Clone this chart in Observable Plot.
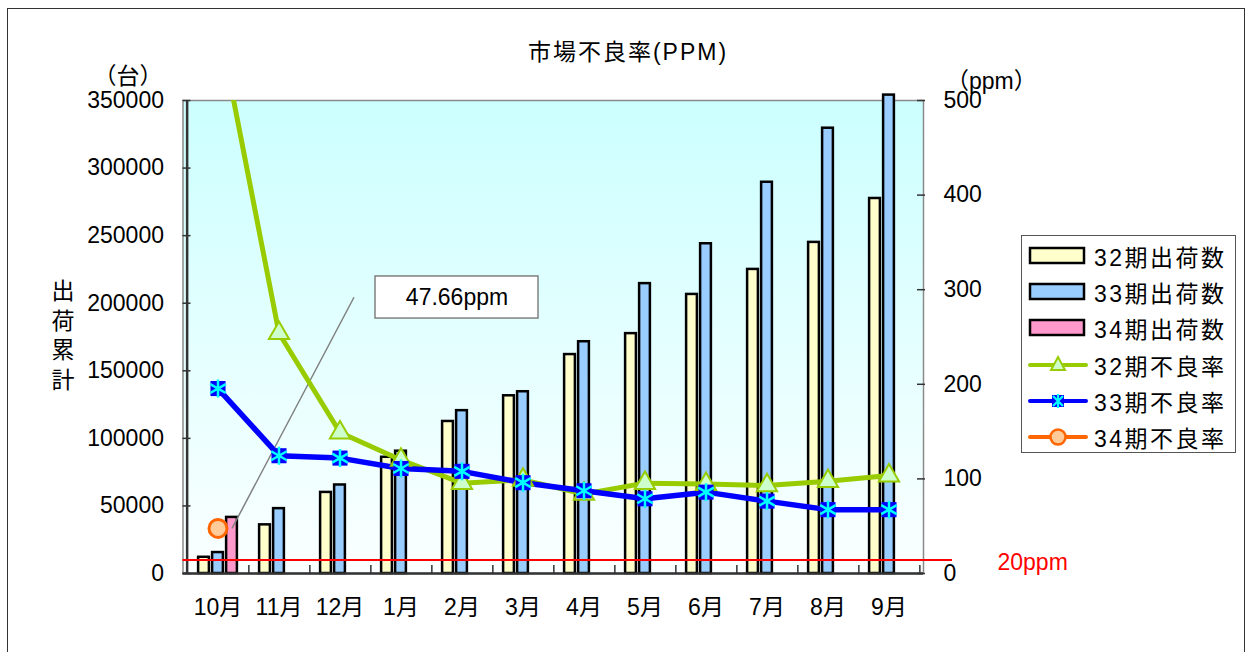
<!DOCTYPE html>
<html><head><meta charset="utf-8">
<script src="https://cdn.jsdelivr.net/npm/d3@7"></script>
<script src="https://cdn.jsdelivr.net/npm/@observablehq/plot@0.6"></script>
<style>
body{margin:0;background:#fff;font-family:"Liberation Sans","Noto Sans CJK JP",sans-serif;}
#wrap{position:relative;width:1252px;height:652px;overflow:hidden;}
#border{position:absolute;left:7px;top:8px;width:1238px;height:700px;border:1.5px solid #333;box-sizing:border-box;}
.t{position:absolute;color:#000;font-size:23px;white-space:nowrap;line-height:1;}
#legend{position:absolute;left:1021px;top:235px;width:215px;height:218px;border:1.2px solid #555;box-sizing:border-box;background:#fff;}
.lrow{position:absolute;left:6px;height:26px;display:flex;align-items:center;}
.lrow span{margin-left:6px;font-size:23px;letter-spacing:2.5px;}
svg.plot{position:absolute;left:0;top:0;}
</style></head><body><div id="wrap"><div id="border"></div></div>
<script>
// ---- data ----
const months = ["10月","11月","12月","1月","2月","3月","4月","5月","6月","7月","8月","9月"];
const ship32 = [12000, 36000, 60000, 86000, 112500, 131500, 162000, 177500, 206500, 225000, 245000, 277500];
const ship33 = [15500, 48000, 65500, 90500, 120500, 134500, 171500, 214500, 244000, 289500, 329500, 354000];
const ship34 = [41500, null, null, null, null, null, null, null, null, null, null, null];
const rate32 = [585, 254, 149, 120, 95.5, 99, 84, 95.5, 94.5, 93, 97.5, 103.5];
const rate33 = [195.5, 124.5, 122, 111, 108, 96, 87.5, 79, 86, 76.5, 67.5, 67.5];
const rate34 = [47.66, null, null, null, null, null, null, null, null, null, null, null];
const leftTicks = [0, 50000, 100000, 150000, 200000, 250000, 300000, 350000];
const rightTicks = [0, 100, 200, 300, 400, 500];
const threshold = 10000;         // red reference line position (left scale)
const thresholdLabel = "20ppm";
const seriesNames = ["32期出荷数","33期出荷数","34期出荷数","32期不良率","33期不良率","34期不良率"];
const title = "市場不良率(PPM)";

// ---- layout ----
const W = 1252, H = 652, ML = 182.5, MR = 329, MT = 100, MB = 79;
const plotW = W - ML - MR, plotH = H - MT - MB;
const band = plotW / months.length;
const barW = 11.5, barInset = (band - barW) / 2, barStep = 14;
const K = 350000 / 500; // ppm -> left scale units

const rows = (arr) => months.map((m, i) => ({m, v: arr[i]})).filter(d => d.v != null);
const r32 = rows(rate32).map(d => ({...d, y: d.v * K}));
const r33 = rows(rate33).map(d => ({...d, y: d.v * K}));
const r34 = rows(rate34).map(d => ({...d, y: d.v * K}));

const barOpts = (fill, dx) => ({x: "m", y: "v", fill, stroke: "#000", strokeWidth: 2.5, insetLeft: barInset, insetRight: barInset, dx});

const chart = Plot.plot({
  width: W, height: H,
  marginLeft: ML, marginRight: MR, marginTop: MT, marginBottom: MB,
  style: {fontFamily: '"Liberation Sans","Noto Sans CJK JP",sans-serif', fontSize: "23px", color: "#000", background: "transparent", overflow: "visible"},
  x: {type: "band", domain: months, padding: 0, axis: null},
  y: {domain: [0, 350000], axis: null},
  marks: [
    Plot.frame({fill: "url(#bgGrad)", stroke: "#8a8a8a", strokeWidth: 1.5}),
    Plot.barY(rows(ship32), barOpts("#FFFFCC", -barStep)),
    Plot.barY(rows(ship33), barOpts("#99CCFF", 0)),
    Plot.barY(rows(ship34), barOpts("#FF99CC", barStep)),
    // inner tick marks
    Plot.ruleY(leftTicks, {y: d => d, stroke: "#333", strokeWidth: 1.5, insetRight: plotW - 8}),
    Plot.ruleY(rightTicks.map(d => d * K), {y: d => d, stroke: "#333", strokeWidth: 1.5, insetLeft: plotW - 6, insetRight: -2}),
    Plot.ruleX(months, {x: d => d, dx: band / 2, stroke: "#333", strokeWidth: 1.5, insetTop: plotH - 8}),
    // axis lines
    Plot.ruleX([months[0]], {x: d => d, dx: -band / 2, stroke: "#333", strokeWidth: 2.5}),
    Plot.ruleY([0], {stroke: "#333", strokeWidth: 2.5}),
    // reference line
    Plot.ruleY([threshold], {stroke: "#FF0000", strokeWidth: 2, insetRight: -29}),
    Plot.text([threshold], {y: d => d, text: () => thresholdLabel, frameAnchor: "right", textAnchor: "start", dx: 74, dy: 3, fill: "#FF0000", fontSize: 23}),
    // callout
    Plot.link(r34, {x1: "m", y1: "y", x2: () => months[2], y2: () => 292 * K, dx: barStep, stroke: "#808080", strokeWidth: 1.5}),
    Plot.barY(r34, {x: () => months[4], y1: () => 314 * K, y2: () => 269.5 * K, fill: "#fff", stroke: "#808080", strokeWidth: 1.5, insetLeft: -56, insetRight: -46}),
    Plot.text(r34, {x: () => months[4], y: () => 292 * K, dx: -5, text: d => d.v.toFixed(2) + "ppm", fontSize: 23, fill: "#000"}),
    // lines
    Plot.line(r32, {x: "m", y: "y", stroke: "#99CC00", strokeWidth: 5, clip: true}),
    Plot.line(r33, {x: "m", y: "y", stroke: "#0000FF", strokeWidth: 5.5}),
    Plot.dot(r32, {x: "m", y: "y", symbol: "triangle", r: 7.5, fill: "#CCFFCC", stroke: "#99CC00", strokeWidth: 2, clip: true}),
    Plot.dot(r33, {x: "m", y: "y", symbol: "square", r: 8.5, fill: "#0000FF"}),
    Plot.dot(r33, {x: "m", y: "y", symbol: "asterisk", r: 8.5, stroke: "#00FFFF", strokeWidth: 2.5}),
    Plot.dot(r34, {x: "m", y: "y", symbol: "circle", r: 9, fill: "#FFCC99", stroke: "#FF6600", strokeWidth: 3}),
    // axes
    Plot.axisY({anchor: "left", ticks: leftTicks, tickSize: 0, tickPadding: 19, tickFormat: d => String(d), fontSize: 23, label: null}),
    Plot.axisY({anchor: "right", ticks: rightTicks.map(d => d * K), tickSize: 0, tickPadding: 20, tickFormat: d => String(Math.round(d / K)), fontSize: 23, label: null}),
    Plot.axisX({anchor: "bottom", tickSize: 0, tickPadding: 25, fontSize: 23, label: null})
  ]
});
chart.classList.add("plot");
const svg = d3.select(chart);
const grad = svg.insert("defs", ":first-child").append("linearGradient").attr("id", "bgGrad").attr("x1", 0).attr("y1", 0).attr("x2", 0).attr("y2", 1);
grad.append("stop").attr("offset", 0).attr("stop-color", "#CCFFFF");
grad.append("stop").attr("offset", 1).attr("stop-color", "#FBFFFF");

const wrap = document.getElementById("wrap");
wrap.appendChild(chart);

function addText(txt, css) {
  const d = document.createElement("div");
  d.className = "t"; d.textContent = txt;
  Object.assign(d.style, css);
  wrap.appendChild(d);
  return d;
}
addText(title, {left: "628px", top: "52px", transform: "translate(-50%,-50%)", letterSpacing: "2px"});
addText("（台）", {left: "128px", top: "76px", transform: "translate(-50%,-50%)"});
addText("（ppm）", {left: "946px", top: "81px", transform: "translateY(-50%)"});
addText("出\n荷\n累\n計", {left: "63px", top: "336px", transform: "translate(-50%,-50%)", whiteSpace: "pre", lineHeight: "29.5px", textAlign: "center"});

// legend
const legend = document.createElement("div");
legend.id = "legend";
wrap.appendChild(legend);
const swatches = [
  {type: "bar", fill: "#FFFFCC"},
  {type: "bar", fill: "#99CCFF"},
  {type: "bar", fill: "#FF99CC"},
  {type: "line", stroke: "#99CC00", marker: "tri"},
  {type: "line", stroke: "#0000FF", marker: "star"},
  {type: "line", stroke: "#FF6600", marker: "circle"}
];
seriesNames.forEach((name, i) => {
  const row = document.createElement("div");
  row.className = "lrow";
  row.style.top = (20 + 36.2 * i - 13) + "px";
  const s = swatches[i];
  let g = "";
  if (s.type === "bar") {
    g = `<rect x="2" y="5" width="54" height="15" fill="${s.fill}" stroke="#000" stroke-width="2.5"/>`;
  } else {
    g = `<line x1="2" x2="58" y1="13" y2="13" stroke="${s.stroke}" stroke-width="4" stroke-linecap="round"/>`;
    if (s.marker === "tri") g += `<path d="M30,5 L37,18 L23,18 Z" fill="#CCFFCC" stroke="#99CC00" stroke-width="2"/>`;
    if (s.marker === "star") g += `<rect x="24" y="7" width="12" height="12" fill="#0000FF"/><path d="M25,8 L35,18 M35,8 L25,18 M30,6 L30,20" stroke="#00FFFF" stroke-width="2.2"/>`;
    if (s.marker === "circle") g += `<circle cx="30" cy="13" r="7.5" fill="#FFCC99" stroke="#FF6600" stroke-width="2.5"/>`;
  }
  row.innerHTML = `<svg width="60" height="26">${g}</svg><span>${name}</span>`;
  legend.appendChild(row);
});
</script></body></html>
